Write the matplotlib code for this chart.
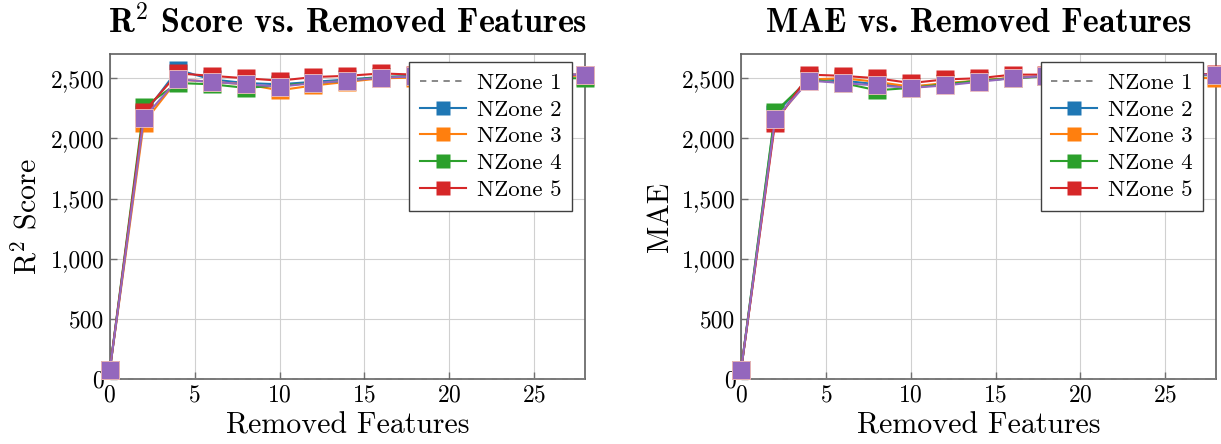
import matplotlib
matplotlib.use("Agg")
import matplotlib.pyplot as plt
from matplotlib.ticker import FuncFormatter

plt.rcParams['font.family'] = ['cmr10', 'DejaVu Sans']
plt.rcParams['mathtext.fontset'] = 'cm'
plt.rcParams['axes.formatter.use_mathtext'] = True

x = [0, 2, 4, 6, 8, 10, 12, 14, 16, 18, 20, 22, 24, 26, 28]

labels = ["NZone 1", "NZone 2", "NZone 3", "NZone 4", "NZone 5"]
colors = ['#7f7f7f', '#1f77b4', '#ff7f0e', '#2ca02c', '#d62728', '#9467bd']

r2_z1 = [0] * 15
r2_z2 = [80, 2200, 2570, 2490, 2460, 2450, 2470, 2490, 2510, 2520, 2525, 2525, 2525, 2528, 2530]
r2_z3 = [80, 2130, 2490, 2470, 2450, 2400, 2440, 2470, 2500, 2505, 2510, 2515, 2515, 2520, 2520]
r2_z4 = [80, 2260, 2460, 2450, 2420, 2440, 2460, 2480, 2510, 2515, 2515, 2510, 2505, 2500, 2500]
r2_z5 = [80, 2220, 2540, 2520, 2500, 2480, 2510, 2520, 2540, 2530, 2530, 2530, 2530, 2530, 2530]
r2_z6 = [80, 2170, 2490, 2470, 2450, 2430, 2460, 2480, 2505, 2515, 2520, 2522, 2525, 2528, 2530]

mae_z1 = [0] * 15
mae_z2 = [80, 2200, 2500, 2480, 2450, 2430, 2450, 2480, 2500, 2520, 2525, 2525, 2525, 2528, 2530]
mae_z3 = [80, 2150, 2490, 2500, 2470, 2430, 2460, 2480, 2505, 2515, 2515, 2515, 2510, 2505, 2500]
mae_z4 = [80, 2220, 2490, 2460, 2400, 2420, 2450, 2480, 2500, 2515, 2520, 2520, 2520, 2525, 2525]
mae_z5 = [80, 2130, 2530, 2520, 2500, 2460, 2490, 2500, 2530, 2530, 2530, 2530, 2530, 2532, 2535]
mae_z6 = [80, 2160, 2480, 2460, 2440, 2420, 2440, 2470, 2500, 2520, 2522, 2524, 2526, 2528, 2530]

r2_series = [r2_z1, r2_z2, r2_z3, r2_z4, r2_z5, r2_z6]
mae_series = [mae_z1, mae_z2, mae_z3, mae_z4, mae_z5, mae_z6]

xticks = [0, 5, 10, 15, 20, 25]
yticks = [0, 500, 1000, 1500, 2000, 2500]

fig = plt.figure(figsize=(12.21, 4.44), dpi=100)
ax1 = fig.add_axes([0.090, 0.146, 0.389, 0.732])
ax2 = fig.add_axes([0.607, 0.146, 0.389, 0.732])

def draw(ax, series, title, ylabel):
    handles = []
    for i, s in enumerate(series):
        if i == 0:
            h, = ax.plot(x, s, color=colors[0], ls=(0, (3.5, 3)), lw=1.3,
                         label=labels[0], clip_on=False, zorder=3)
        else:
            lab = labels[i] if i < 5 else None
            h, = ax.plot(x, s, color=colors[i], lw=1.5, marker='s', ms=12.5,
                         mec='#f0c0c0' if i == 5 else 'none', mew=0.6,
                         label=lab, clip_on=False, zorder=3 + i)
        if i < 5:
            handles.append(h)
    ax.set_xlim(0, 28)
    ax.set_ylim(0, 2700)
    ax.set_xticks(xticks)
    ax.set_yticks(yticks)
    ax.yaxis.set_major_formatter(FuncFormatter(lambda v, p: f"{int(v):,}"))
    ax.grid(True, color='#d0d0d0', lw=0.8)
    ax.set_axisbelow(True)
    ax.tick_params(direction='in', length=5, labelsize=17, color='#707070', width=1,
                   pad=4)
    for sp in ax.spines.values():
        sp.set_color('#606060')
        sp.set_linewidth(1.2)
    ax.set_title(title, fontsize=24.5, pad=16)
    ax.set_xlabel("Removed Features", fontsize=21.5, labelpad=4)
    ax.set_ylabel(ylabel, fontsize=21.5, labelpad=6)
    leg = ax.legend(handles=handles, loc='upper right', bbox_to_anchor=(0.973, 0.975),
                    fontsize=16.5, frameon=True, fancybox=False, framealpha=1,
                    edgecolor='#404040', handlelength=2.0, borderpad=0.45,
                    labelspacing=0.3, handletextpad=0.5, borderaxespad=0.0,
                    markerscale=0.85)
    leg.get_frame().set_linewidth(1.0)
    leg.set_zorder(20)

draw(ax1, r2_series, r'$\mathbf{R^2}$' + ' Score vs. Removed Features', r'R$^2$ Score')
draw(ax2, mae_series, 'MAE vs. Removed Features', 'MAE')
for ax in (ax1, ax2):
    ax.title.set_fontfamily(['cmb10', 'DejaVu Sans'])

fig.savefig("out.png", dpi=100)
